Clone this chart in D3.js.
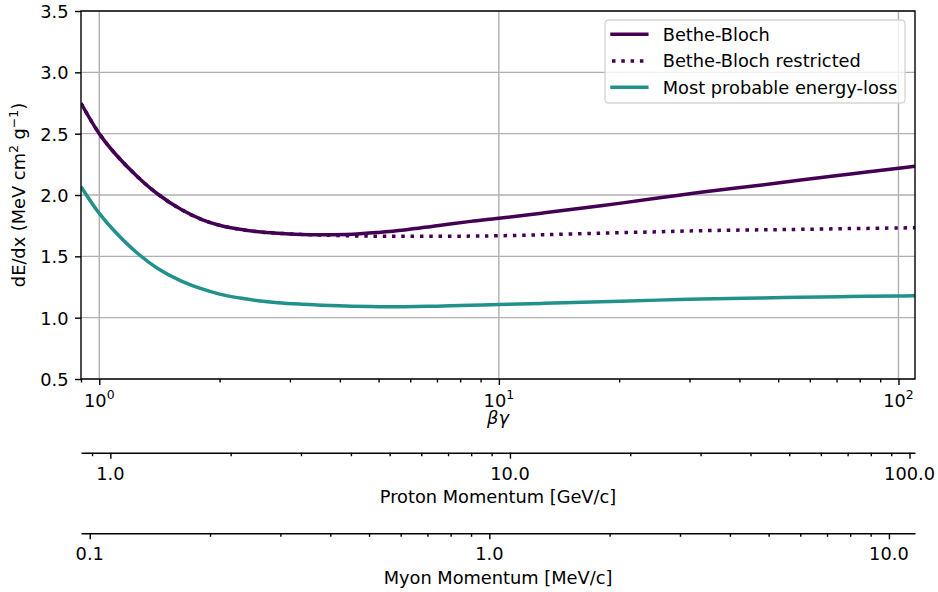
<!DOCTYPE html>
<html>
<head>
<meta charset="utf-8">
<script src="https://cdn.jsdelivr.net/npm/d3@7"></script>
<style>
  html, body { margin: 0; padding: 0; background: #ffffff; }
  svg { display: block; font-family: "DejaVu Sans", sans-serif; }
</style>
</head>
<body>
<svg id="chart" width="938" height="592"></svg>
<script>
// βγ sampling points shared by all three curves
const betaGamma = [0.9, 1.0, 1.1, 1.25, 1.4, 1.6, 1.8, 2.0, 2.25, 2.5, 2.8, 3.2, 3.6, 4.3, 5.0, 5.8, 7.0, 8.5, 10, 13, 18, 25, 32, 45, 57, 75, 100, 110];

// mean energy loss (MeV cm² / g)
const betheBloch = [2.748, 2.50, 2.33, 2.145, 2.008, 1.883, 1.802, 1.753, 1.72, 1.70, 1.688, 1.679, 1.676, 1.680, 1.695, 1.715, 1.750, 1.785, 1.810, 1.855, 1.912, 1.975, 2.022, 2.080, 2.122, 2.170, 2.218, 2.235];

// restricted mean energy loss
const betheBlochRestricted = [2.748, 2.50, 2.33, 2.145, 2.008, 1.883, 1.802, 1.753, 1.72, 1.70, 1.688, 1.679, 1.673, 1.667, 1.664, 1.663, 1.663, 1.665, 1.668, 1.676, 1.689, 1.700, 1.709, 1.716, 1.720, 1.726, 1.731, 1.733];

// most probable energy loss
const mostProbable = [2.068, 1.850, 1.694, 1.521, 1.401, 1.300, 1.236, 1.192, 1.160, 1.138, 1.122, 1.110, 1.102, 1.094, 1.090, 1.090, 1.094, 1.101, 1.108, 1.117, 1.130, 1.143, 1.153, 1.160, 1.166, 1.172, 1.177, 1.179];

const yTicks = [0.5, 1.0, 1.5, 2.0, 2.5, 3.0, 3.5];
const xMajorTicks = [1, 10, 100];
const xExponents = ["0", "1", "2"];

// particle masses in GeV/c² for the momentum axes
const protonMass = 0.938272;
const muonMass = 0.105658;

const seriesNames = ["Bethe-Bloch", "Bethe-Bloch restricted", "Most probable energy-loss"];
const seriesColors = ["#440154", "#440154", "#21918c"];

const FS = 17.8;          // base font size
const LW = 1.4;           // spine / tick width
const CURVE_W = 3.5;      // curve width

const svg = d3.select("#chart");
const plot = { left: 81, right: 915, top: 11, bottom: 379 };

const x = d3.scaleLog().domain([0.9, 110]).range([plot.left, plot.right]);
const y = d3.scaleLinear().domain([0.5, 3.5]).range([plot.bottom, plot.top]);

const isDecade = v => Math.abs(Math.log10(v) - Math.round(Math.log10(v))) < 1e-6;

// clip region for the curves
svg.append("defs").append("clipPath").attr("id", "plotClip")
  .append("rect")
  .attr("x", plot.left).attr("y", plot.top)
  .attr("width", plot.right - plot.left).attr("height", plot.bottom - plot.top);

// grid
const grid = svg.append("g").attr("stroke", "#b0b0b0").attr("stroke-width", LW);
grid.selectAll("line.gy").data(yTicks).join("line")
  .attr("x1", plot.left).attr("x2", plot.right)
  .attr("y1", d => y(d)).attr("y2", d => y(d));
grid.selectAll("line.gx").data(xMajorTicks).join("line")
  .attr("x1", d => x(d)).attr("x2", d => x(d))
  .attr("y1", plot.top).attr("y2", plot.bottom);

// curves
const line = (vals) => d3.line()
  .x((d, i) => x(betaGamma[i]))
  .y(d => y(d))
  .curve(d3.curveCatmullRom.alpha(0.5))(vals);

const curves = svg.append("g").attr("clip-path", "url(#plotClip)").attr("fill", "none");
curves.append("path").attr("d", line(betheBloch))
  .attr("stroke", seriesColors[0]).attr("stroke-width", CURVE_W).attr("stroke-linejoin", "round");
curves.append("path").attr("d", line(betheBlochRestricted))
  .attr("stroke", seriesColors[1]).attr("stroke-width", CURVE_W)
  .attr("stroke-dasharray", "3.5,5.8").attr("stroke-linecap", "butt");
curves.append("path").attr("d", line(mostProbable))
  .attr("stroke", seriesColors[2]).attr("stroke-width", CURVE_W).attr("stroke-linejoin", "round");

// spines
svg.append("rect")
  .attr("x", plot.left).attr("y", plot.top)
  .attr("width", plot.right - plot.left).attr("height", plot.bottom - plot.top)
  .attr("fill", "none").attr("stroke", "#000").attr("stroke-width", LW);

// y axis
const yAxis = svg.append("g").attr("transform", `translate(${plot.left},0)`)
  .call(d3.axisLeft(y).tickValues(yTicks).tickSize(6).tickSizeOuter(0).tickFormat(""));
yAxis.select(".domain").remove();
yAxis.selectAll(".tick line").attr("stroke-width", LW);
svg.append("g").selectAll("text").data(yTicks).join("text")
  .attr("x", plot.left - 12.5).attr("y", d => y(d) + 7)
  .attr("text-anchor", "end").attr("font-size", FS).attr("fill", "#000")
  .text(d => d.toFixed(1));

// y label
const yl = svg.append("text")
  .attr("transform", `translate(25,${(plot.top + plot.bottom) / 2}) rotate(-90)`)
  .attr("text-anchor", "middle").attr("font-size", FS).attr("fill", "#000");
yl.append("tspan").text("dE/dx (MeV cm");
yl.append("tspan").attr("font-size", FS * 0.7).attr("dy", -7).text("2");
yl.append("tspan").attr("dy", 7).text(" g");
yl.append("tspan").attr("font-size", FS * 0.7).attr("dy", -7).text("\u22121");
yl.append("tspan").attr("dy", 7).text(")");

// helper: log axis with major + minor ticks
function logAxis(scale, yPos, withDomain) {
  const all = scale.ticks();
  const major = all.filter(isDecade);
  const minor = all.filter(v => !isDecade(v));
  const g = svg.append("g").attr("transform", `translate(0,${yPos})`);
  const gMin = g.append("g").call(d3.axisBottom(scale).tickValues(minor).tickSize(3.5).tickSizeOuter(0).tickFormat(""));
  gMin.select(".domain").remove();
  const gMaj = g.append("g").call(d3.axisBottom(scale).tickValues(major).tickSize(6).tickSizeOuter(0).tickFormat(""));
  if (!withDomain) gMaj.select(".domain").remove();
  g.selectAll("line, path").attr("stroke-width", LW);
  return { g, major };
}

// main βγ axis
logAxis(x, plot.bottom, false);
const mainLabels = svg.append("g").selectAll("text").data(xMajorTicks).join("text")
  .attr("x", d => x(d)).attr("y", 406.5)
  .attr("text-anchor", "middle").attr("font-size", FS).attr("fill", "#000");
mainLabels.append("tspan").text("10");
mainLabels.append("tspan").attr("font-size", FS * 0.7).attr("dy", -7.7).text((d, i) => xExponents[i]);

svg.append("text")
  .attr("x", (plot.left + plot.right) / 2).attr("y", 423.5)
  .attr("text-anchor", "middle").attr("font-size", FS).attr("font-style", "italic").attr("fill", "#000")
  .text("\u03b2\u03b3");

// proton momentum axis
const xProton = d3.scaleLog().domain(x.domain().map(v => v * protonMass)).range(x.range());
const pAx = logAxis(xProton, 452.7, true);
svg.append("g").selectAll("text").data(pAx.major).join("text")
  .attr("x", d => xProton(d)).attr("y", 479.5)
  .attr("text-anchor", "middle").attr("font-size", FS).attr("fill", "#000")
  .text(d3.format(".1f"));
svg.append("text")
  .attr("x", (plot.left + plot.right) / 2).attr("y", 503.3)
  .attr("text-anchor", "middle").attr("font-size", FS).attr("fill", "#000")
  .text("Proton Momentum [GeV/c]");

// muon momentum axis
const xMuon = d3.scaleLog().domain(x.domain().map(v => v * muonMass)).range(x.range());
const mAx = logAxis(xMuon, 533.3, true);
svg.append("g").selectAll("text").data(mAx.major).join("text")
  .attr("x", d => xMuon(d)).attr("y", 560)
  .attr("text-anchor", "middle").attr("font-size", FS).attr("fill", "#000")
  .text(d3.format(".1f"));
svg.append("text")
  .attr("x", (plot.left + plot.right) / 2).attr("y", 584)
  .attr("text-anchor", "middle").attr("font-size", FS).attr("fill", "#000")
  .text("Myon Momentum [MeV/c]");

// legend
const legend = svg.append("g");
legend.append("rect")
  .attr("x", 605).attr("y", 20).attr("width", 300).attr("height", 83).attr("rx", 3.5)
  .attr("fill", "#ffffff").attr("fill-opacity", 0.8)
  .attr("stroke", "#cccccc").attr("stroke-opacity", 0.8).attr("stroke-width", LW);
const legendRows = [34.3, 61, 87.3];
seriesNames.forEach((name, i) => {
  const ly = legendRows[i];
  const ln = legend.append("line")
    .attr("x1", 612).attr("x2", 646.8).attr("y1", ly).attr("y2", ly)
    .attr("stroke", seriesColors[i]).attr("stroke-width", CURVE_W);
  if (i === 1) ln.attr("stroke-dasharray", "3.5,5.8").attr("stroke-linecap", "butt");
  else ln.attr("stroke-linecap", "square");
  legend.append("text")
    .attr("x", 662.7).attr("y", ly + 6.3)
    .attr("font-size", FS).attr("fill", "#000")
    .text(name);
});
</script>
</body>
</html>
